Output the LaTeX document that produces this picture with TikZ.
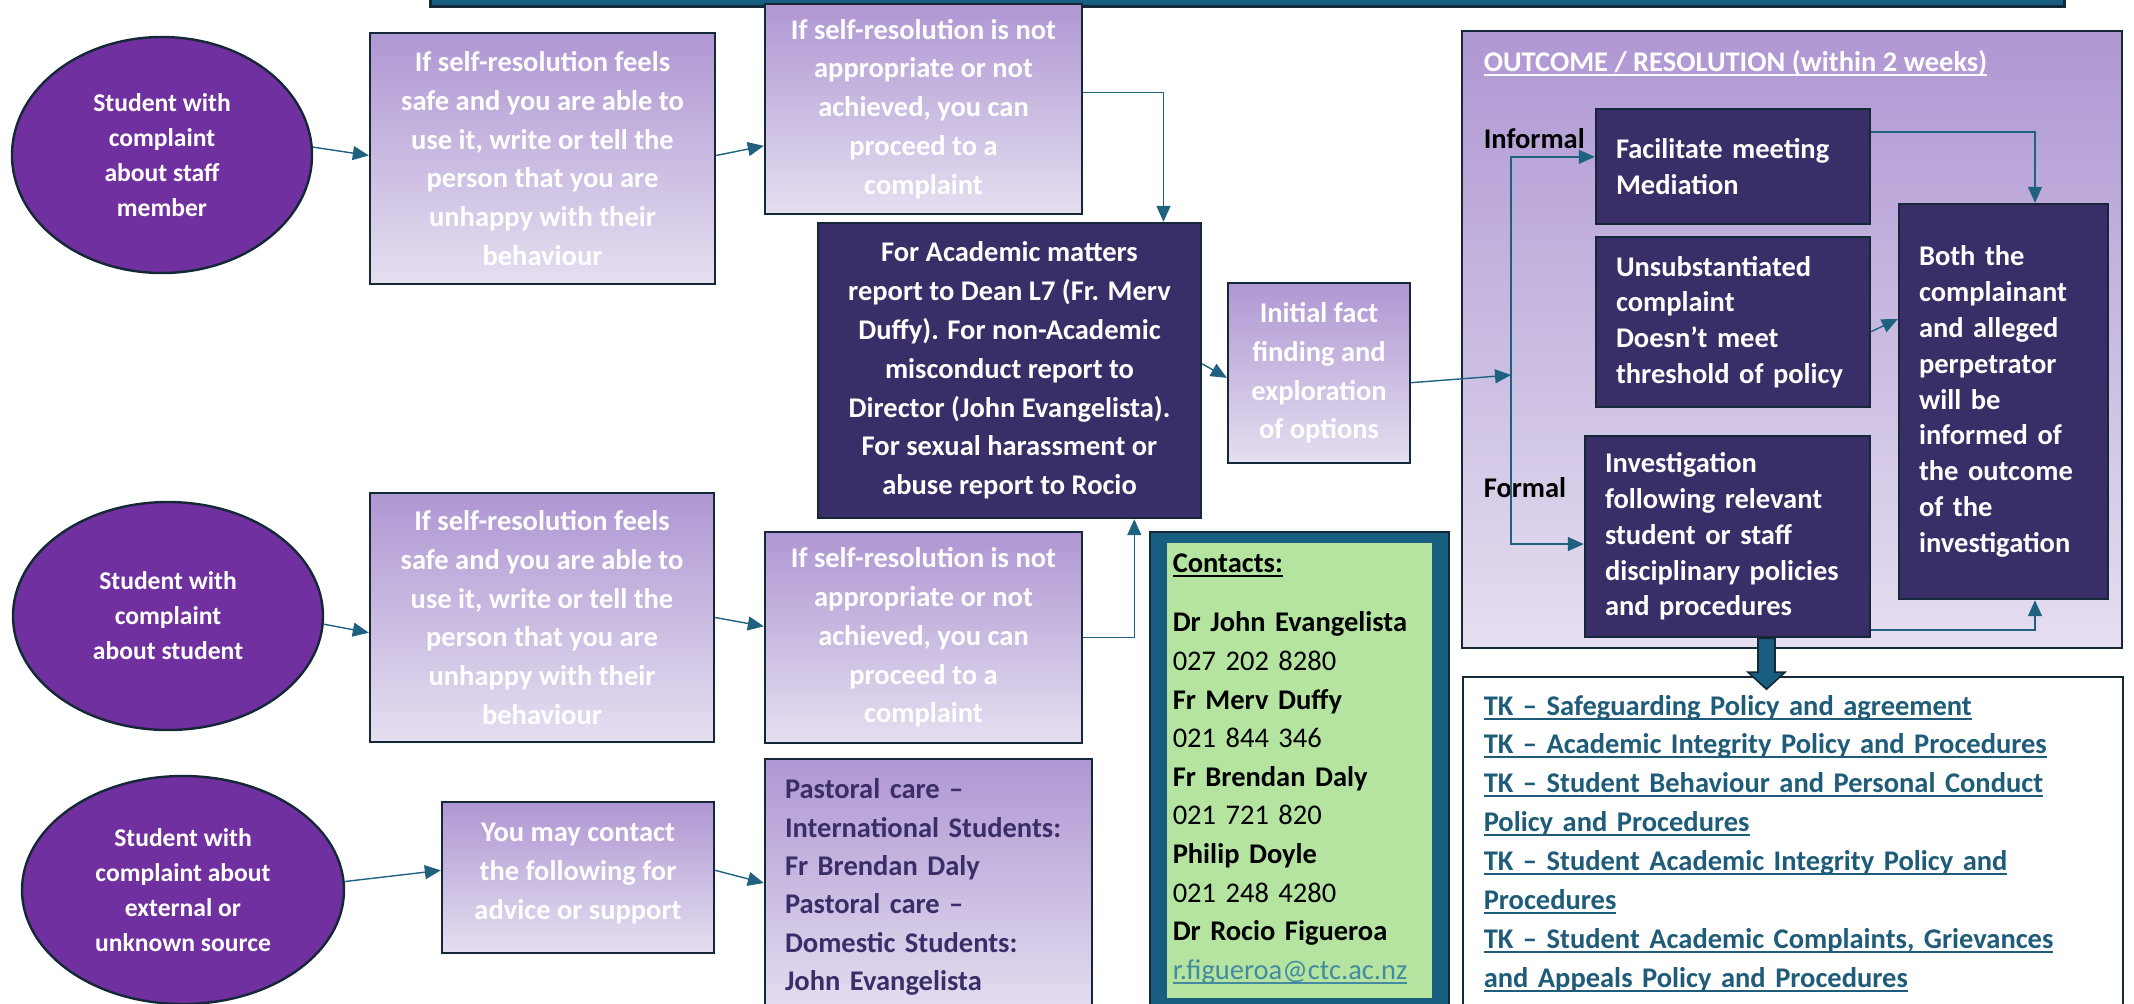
\documentclass[tikz,border=0pt]{standalone}
\usepackage{fontspec}
\setmainfont{Carlito}
\usetikzlibrary{shapes.geometric,arrows.meta,calc}

\definecolor{banner}{RGB}{24,94,128}
\definecolor{edge}{RGB}{20,40,55}
\definecolor{purp}{RGB}{112,48,160}
\definecolor{navy}{RGB}{57,46,104}
\definecolor{lavtop}{RGB}{175,151,211}
\definecolor{lavbot}{RGB}{229,223,240}
\definecolor{flowcol}{RGB}{30,98,128}
\definecolor{mint}{RGB}{180,228,160}
\definecolor{linkcol}{RGB}{30,92,122}
\definecolor{mailcol}{RGB}{68,138,160}

% underline in the colour of the text
\newcommand{\linkline}[1]{\leavevmode\setbox0=\hbox{#1}\rlap{\rule[-2.3pt]{\wd0}{1pt}}\box0}

\tikzset{every picture/.style={line width=0.75pt}}
\tikzset{
  student/.style={ellipse, draw=edge, line width=1.2pt, fill=purp, text=white, inner sep=0pt, align=center, font=\fontsize{12.8}{17.5}\selectfont\bfseries},
  selfbox/.style={rectangle, draw=edge, line width=1.2pt, top color=lavtop, bottom color=lavbot, text=white, inner sep=0pt, align=center, font=\fontsize{14.25}{19.4}\selectfont\bfseries},
  deanbox/.style={rectangle, draw=edge, line width=1.2pt, fill=navy, text=white, inner sep=0pt, align=center, font=\fontsize{14.25}{19.4}\selectfont\bfseries},
  resbox/.style={rectangle, draw=edge, line width=1.2pt, fill=navy, text=white, inner xsep=10pt, inner ysep=0pt, align=left, font=\fontsize{14.25}{17.9}\selectfont\bfseries},
  pastoralbox/.style={rectangle, draw=edge, line width=1.2pt, top color=lavtop, bottom color=lavbot, text=navy, inner xsep=10pt, inner ysep=9.7pt, text width=143.5pt, align=left, font=\fontsize{14.25}{19.2}\selectfont\bfseries},
  panel/.style={draw=edge, line width=1.2pt, top color=lavtop, bottom color=lavbot},
  tkframe/.style={rectangle, draw=edge, line width=1.2pt, fill=white, inner sep=0pt},
  heading/.style={inner sep=0pt, text=white, font=\fontsize{14.25}{17.9}\selectfont\bfseries},
  tag/.style={inner sep=0pt, text=black, font=\fontsize{14.25}{17.9}\selectfont\bfseries},
  contactlist/.style={inner sep=0pt, text=black, text width=127pt, align=left, font=\fontsize{14.25}{19.3}\selectfont\bfseries},
  tklinks/.style={inner sep=0pt, text=linkcol, text width=300pt, align=left, font=\fontsize{14.25}{19.43}\selectfont\bfseries},
  flow/.style={draw=flowcol, line width=0.7pt, -{Triangle[length=8pt,width=7pt]}},
  blockarrow/.style={fill=banner, draw=edge, line width=0.8pt, line join=miter},
}

\begin{document}
\begin{tikzpicture}[x=0.5pt,y=0.5pt,yscale=-1,xscale=1]
\useasboundingbox (0,0) rectangle (2134,1003);

%Shape: Rectangle (banner at the top)
\draw[fill=banner, draw=edge, line width=1.5pt] (430,-20) rectangle (2064,6);
%Shape: Rectangle (outcome panel)
\draw[panel] (1462,31) rectangle (2122,648);
%Shape: Rectangle (contacts frame)
\draw[fill=banner, draw=edge, line width=1.2pt] (1150,532) rectangle (1449,1020);
\fill[mint] (1167,543) rectangle (1432,998);

% Text Node
\draw (162,155) node[student, minimum width=150pt, minimum height=118pt] (staff) {Student with\\complaint\\about staff\\member};
% Text Node
\draw (168,616) node[student, minimum width=155pt, minimum height=114pt] (peer) {Student with\\complaint\\about student};
% Text Node
\draw (183,890) node[student, minimum width=161pt, minimum height=114pt] (other) {Student with\\complaint about\\external or\\unknown source};

% Text Node
\draw (542.5,158.5) node[selfbox, minimum width=172.5pt, minimum height=125.5pt] (selfa) {If self-resolution feels\\safe and you are able to\\use it, write or tell the\\person that you are\\unhappy with their\\behaviour};
% Text Node
\draw (542,617.5) node[selfbox, minimum width=172pt, minimum height=124.5pt] (selfb) {If self-resolution feels\\safe and you are able to\\use it, write or tell the\\person that you are\\unhappy with their\\behaviour};
% Text Node
\draw (923.5,109) node[selfbox, minimum width=158.5pt, minimum height=105pt] (escala) {If self-resolution is not\\appropriate or not\\achieved, you can\\proceed to a\\complaint};
% Text Node
\draw (923.5,637.5) node[selfbox, minimum width=158.5pt, minimum height=105.5pt] (escalb) {If self-resolution is not\\appropriate or not\\achieved, you can\\proceed to a\\complaint};
% Text Node
\draw (1009.5,370.5) node[deanbox, minimum width=191.5pt, minimum height=147.5pt] (report) {For Academic matters\\report to Dean L7 (Fr. Merv\\Duffy). For non-Academic\\misconduct report to\\Director (John Evangelista).\\For sexual harassment or\\abuse report to Rocio};
% Text Node
\draw (1319,373) node[selfbox, minimum width=91pt, minimum height=90pt] (facts) {Initial fact\\finding and\\exploration\\of options};
% Text Node
\draw (578,877.5) node[selfbox, minimum width=136pt, minimum height=75.5pt] (advice) {You may contact\\the following for\\advice or support\\[-13.4pt]};
% Text Node
\draw (928.5,758) node[pastoralbox, anchor=north] (pastoral) {Pastoral care –\\International Students:\\Fr Brendan Daly\\Pastoral care –\\Domestic Students:\\John Evangelista};

% Text Node
\draw (1483,71) node[heading, anchor=base west] (outtitle) {\linkline{OUTCOME / RESOLUTION (within 2 weeks)}};
% Text Node
\draw (1483,148) node[tag, anchor=base west] (informal) {Informal};
% Text Node
\draw (1483,497) node[tag, anchor=base west] (formal) {Formal};
% Text Node
\draw (1733,166.5) node[resbox, text width=117pt, minimum height=57.5pt] (mediate) {Facilitate meeting\\Mediation};
% Text Node
\draw (1733,322) node[resbox, text width=117pt, minimum height=85pt] (unsub) {Unsubstantiated\\complaint\\Doesn’t meet\\threshold of policy};
% Text Node
\draw (1727.5,536.5) node[resbox, text width=122.5pt, minimum height=100.5pt] (investig) {Investigation\\following relevant\\student or staff\\disciplinary policies\\and procedures};
% Text Node
\draw (2003.5,401.5) node[resbox, text width=84.5pt, minimum height=197.5pt] (inform) {Both the\\complainant\\and alleged\\perpetrator\\will be\\informed of\\the outcome\\of the\\investigation};

% Text Node
\draw (1172,572) node[contactlist, anchor=base west] (contacts) {\linkline{Contacts:}\\[10.6pt]
Dr John Evangelista\\{\mdseries 027 202 8280}\\
Fr Merv Duffy\\{\mdseries 021 844 346}\\
Fr Brendan Daly\\{\mdseries 021 721 820}\\
Philip Doyle\\{\mdseries 021 248 4280}\\
Dr Rocio Figueroa\\{\mdseries\color{mailcol}\linkline{r.figueroa@ctc.ac.nz}}};

%Shape: Rectangle (policy links)
\draw (1462,676) node[tkframe, anchor=north west, minimum width=330pt, minimum height=170pt] (tkbox) {};
% Text Node
\draw (1483,715) node[tklinks, anchor=base west] (links) {\linkline{TK – Safeguarding Policy and agreement}\\
\linkline{TK – Academic Integrity Policy and Procedures}\\
\linkline{TK – Student Behaviour and Personal Conduct}\\
\linkline{Policy and Procedures}\\
\linkline{TK – Student Academic Integrity Policy and}\\
\linkline{Procedures}\\
\linkline{TK – Student Academic Complaints, Grievances}\\
\linkline{and Appeals Policy and Procedures}};

%Straight Lines
\draw[flow] (staff.3) -- (selfa.179);
\draw[flow] (selfa.1) -- (escala.193);
\draw[flow] (escala.6) -| (report.44);
\draw[flow] (peer.-3) -- (selfb.185);
\draw[flow] (selfb.east) -- (escalb.176);
\draw[flow] (escalb.east) -| (report.-50);
\draw[flow] (report.2) -- (facts.183);
\coordinate (fork) at (1511,375);
\draw[flow] (facts.-6) -- (fork);
\draw[flow] (fork) |- (mediate.176);
\draw[flow] (fork) |- (investig.183);
\draw[flow] (mediate.14) -| (inform.81);
\draw[flow] (unsub.-4) -- (inform.142);
\draw[flow] (investig.-33) -| (inform.-81);
\draw[flow] (other.3) -- (advice.177);
\draw[flow] (advice.3) -- ($(pastoral.north west)+(0,125)$);

%Shape: Block arrow down to the policy links
\draw[blockarrow] ($(investig.south)+(30.5,0)$) -- ++(17,0) -- ++(0,34) -- ++(10,0) -- ++(-18.5,17) -- ++(-18.5,-17) -- ++(10,0) -- cycle;

\end{tikzpicture}
\end{document}
